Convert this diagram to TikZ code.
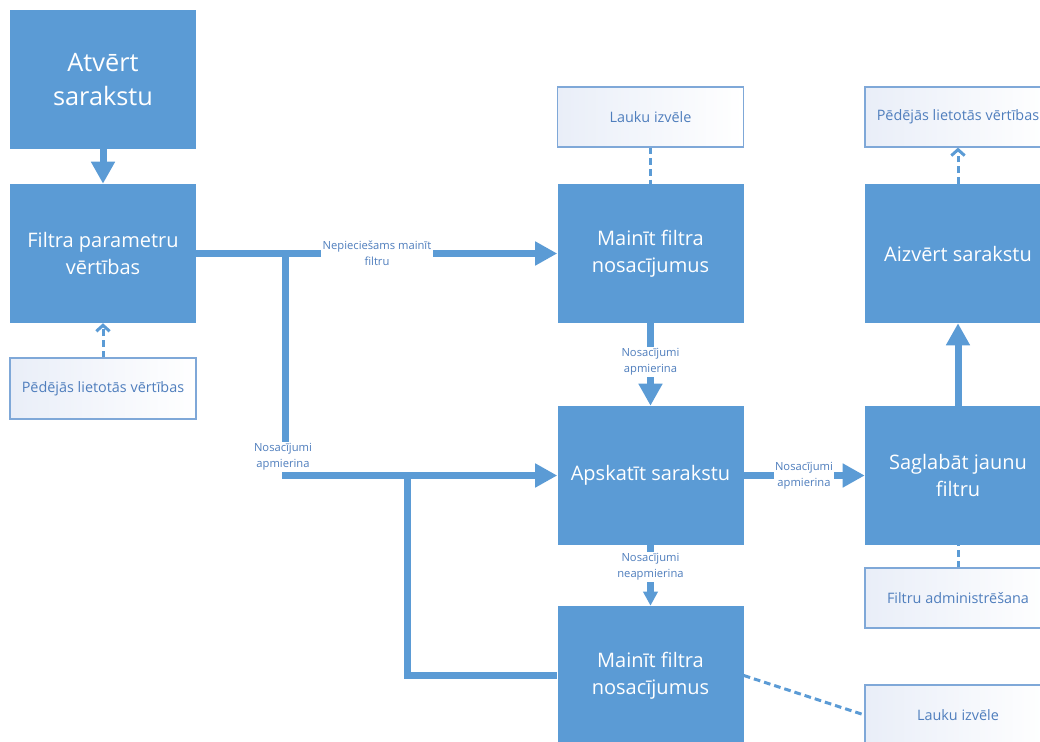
\documentclass[tikz,border=0pt]{standalone}
\usepackage{fontspec}
\setmainfont{Open Sans}
\usetikzlibrary{arrows.meta}
\definecolor{mblue}{HTML}{5B9BD5}
\definecolor{sborder}{HTML}{7FA8D8}
\definecolor{stext}{HTML}{4F7EBD}
\definecolor{slight}{HTML}{E9EEF8}
\tikzset{
  bigbox/.style={fill=mblue, draw=none, minimum width=139.5pt, minimum height=104.25pt,
    text=white, align=center, inner sep=0pt, font=\fontsize{15}{20}\selectfont},
  smallbox/.style={draw=sborder, line width=0.9pt, left color=slight, right color=white,
    minimum width=139.5pt, minimum height=45pt, inner sep=0pt, text=stext,
    font=\fontsize{10.8}{13}\selectfont},
  flow/.style={draw=mblue, line width=5.25pt},
  flowarrow/.style={flow, -{Triangle[length=16.5pt,width=17pt]}},
  smallarrow/.style={flow, -{Triangle[length=10.5pt,width=10.5pt]}},
  lbl/.style={fill=white, text=stext, font=\fontsize{8.4}{12}\selectfont, align=center, inner sep=1pt},
  dashlink/.style={draw=mblue, line width=2.25pt, dash pattern=on 5pt off 3pt},
  opentip/.style={-{Straight Barb[length=4.5pt,width=10pt]}}
}
\begin{document}
\begin{tikzpicture}[x=0.75pt,y=-0.75pt]
\useasboundingbox (0,0) rectangle (1040,742);
% main boxes
\node[bigbox, font=\fontsize{19}{26}\selectfont] (a1) at (103,79.5) {Atvērt\\sarakstu};
\node[bigbox] (a2) at (103,253.5) {Filtra parametru\\vērtības};
\node[bigbox] (m1) at (650.5,253.5) {Mainīt filtra\\nosacījumus};
\node[bigbox] (m4) at (958,253.5) {Aizvērt sarakstu};
\node[bigbox] (m5) at (650.5,475.5) {Apskatīt sarakstu};
\node[bigbox] (m6) at (958,475.5) {Saglabāt jaunu\\filtru};
\node[bigbox] (m7) at (650.5,675.5) {Mainīt filtra\\nosacījumus};
% small boxes
\node[smallbox, minimum height=45.75pt] (s1) at (103,388.5) {Pēdējās lietotās vērtības};
\node[smallbox] (s3) at (650.5,117) {Lauku izvēle};
\node[smallbox] (s4) at (958,117) {Pēdējās lietotās vērtības};
\node[smallbox] (s6) at (958,598) {Filtru administrēšana};
\node[smallbox] (s7) at (958,715) {Lauku izvēle};
% junctions
\coordinate (j1) at (285,253.5);
\coordinate (j2) at (407,475.5);
% flow connectors
\draw[flowarrow] (a1) -- (a2);
\draw[flowarrow] (a2.east) -- (m1.west);
\draw[flowarrow] (j1) |- (m5.west);
\draw[flow] (m7.west) -| (j2);
\draw[flowarrow] (m1) -- (m5);
\draw[flowarrow] (m5) -- (m6);
\draw[flowarrow] (m6) -- (m4);
\draw[smallarrow] (m5) -- (m7);
% dashed links
\draw[dashlink, opentip] (s1) -- (a2);
\draw[dashlink] (s3) -- (m1);
\draw[dashlink, opentip] (m4) -- (s4);
\draw[dashlink] (s6) -- (m6);
\draw[dashlink] (m7.east) -- (s7.west);
% labels
\node[lbl] (l1) at (377,253.5) {Nepieciešams mainīt\\filtru};
\node[lbl] (l2) at (283,457) {Nosacījumi\\apmierina};
\node[lbl] (l3) at (650.5,362) {Nosacījumi\\apmierina};
\node[lbl] (l4) at (804,475.5) {Nosacījumi\\apmierina};
\node[lbl] (l5) at (650.5,567) {Nosacījumi\\neapmierina};
\end{tikzpicture}
\end{document}
